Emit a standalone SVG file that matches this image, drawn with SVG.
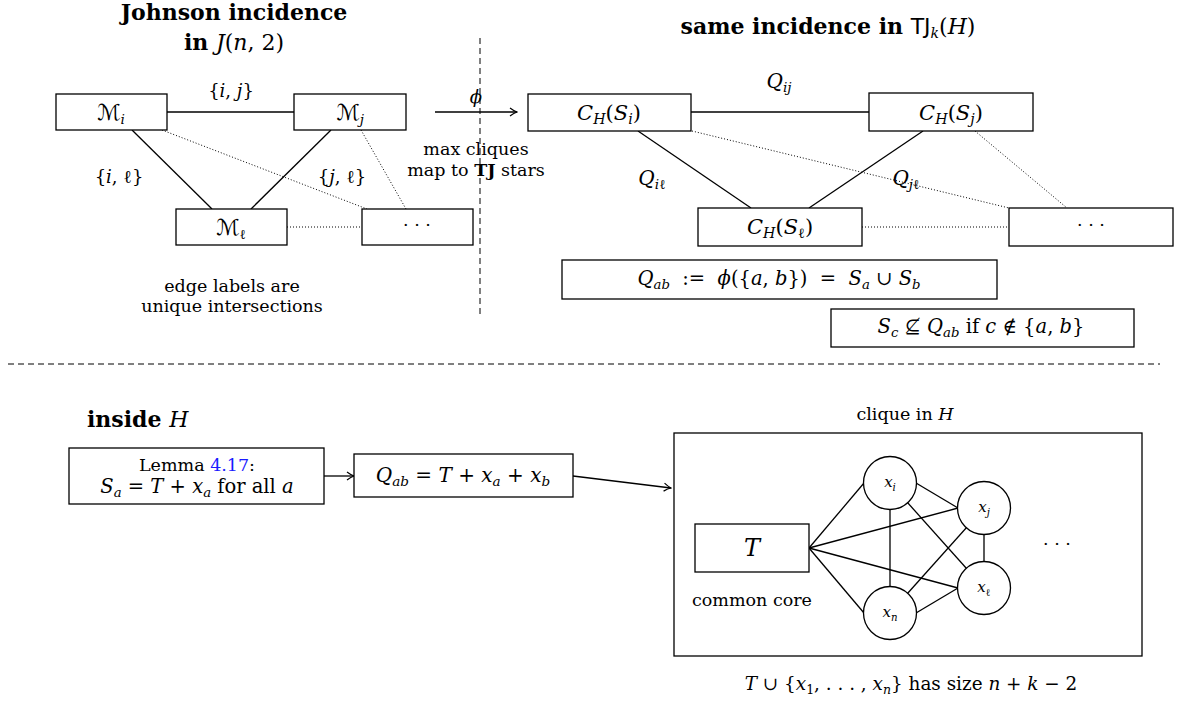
<svg xmlns="http://www.w3.org/2000/svg" width="1179" height="702" viewBox="0 0 1179 702" font-family="'DejaVu Serif','Liberation Serif',serif" font-size="17.5" text-anchor="middle">
<style>
text{fill:#000}
.t{font-weight:bold;font-size:22px}
.n{font-weight:normal}
.m{font-style:italic}
.s{font-size:0.68em}
.cal{font-family:"DejaVu Sans",sans-serif;font-size:22px}
.box{fill:#fff;stroke:#000;stroke-width:1.3}
.e{stroke:#000;stroke-width:1.3;fill:none}
.d{stroke:#000;stroke-width:1;stroke-dasharray:1 2;fill:none}
.dash{stroke:#000;stroke-width:1;stroke-dasharray:6 4;fill:none}
.c{fill:#fff;stroke:#000;stroke-width:1.3}
.blue{fill:#1a1aff}
</style>
<defs>
<marker id="ah" viewBox="0 0 10 10" refX="9" refY="5" markerWidth="10" markerHeight="10" markerUnits="userSpaceOnUse" orient="auto">
<path d="M2,1 Q6,4 9,5 Q6,6 2,9" fill="none" stroke="#000" stroke-width="1.2"/>
</marker>
</defs>

<!-- titles -->
<text class="t" x="234" y="20">Johnson incidence</text>
<text class="t" x="234" y="50">in <tspan class="n m">J</tspan><tspan class="n">(</tspan><tspan class="n m">n</tspan><tspan class="n">, 2)</tspan></text>
<text class="t" x="828" y="34">same incidence in <tspan class="n" font-family="DejaVu Sans">TJ</tspan><tspan class="n m" font-size="14" dy="4">k</tspan><tspan class="n" dy="-4">(</tspan><tspan class="n m">H</tspan><tspan class="n">)</tspan></text>

<!-- connectors -->
<g id="connectors">
<line class="e" x1="167" y1="112" x2="294" y2="112"/>
<line class="e" x1="132" y1="130" x2="212" y2="209"/>
<line class="e" x1="331" y1="130" x2="251" y2="209"/>
<line class="d" x1="162" y1="130" x2="367" y2="209"/>
<line class="d" x1="361" y1="130" x2="406" y2="209"/>
<line class="d" x1="287" y1="227" x2="362" y2="227"/>

<line class="dash" x1="480" y1="38" x2="480" y2="318"/>
<line class="e" x1="435" y1="112" x2="517" y2="112" marker-end="url(#ah)"/>

<line class="e" x1="691" y1="112" x2="869" y2="112"/>
<line class="e" x1="638" y1="131" x2="751" y2="208"/>
<line class="e" x1="923" y1="131" x2="809" y2="208"/>
<line class="d" x1="692" y1="131" x2="1009" y2="208"/>
<line class="d" x1="975" y1="131" x2="1067" y2="208"/>
<line class="d" x1="862" y1="227" x2="1009" y2="227"/>

<line class="dash" x1="8" y1="364" x2="1160" y2="364" stroke-dasharray="7 5"/>

<line class="e" x1="324" y1="476" x2="354" y2="476" marker-end="url(#ah)"/>
<line class="e" x1="573" y1="476" x2="671" y2="488" marker-end="url(#ah)"/>

<line class="e" x1="809" y1="548" x2="864" y2="483"/>
<line class="e" x1="809" y1="548" x2="958" y2="508"/>
<line class="e" x1="809" y1="548" x2="958" y2="588"/>
<line class="e" x1="809" y1="548" x2="864" y2="613"/>
<line class="e" x1="916" y1="483" x2="958" y2="508"/>
<line class="e" x1="890" y1="483" x2="890" y2="613"/>
<line class="e" x1="890" y1="483" x2="984" y2="588"/>
<line class="e" x1="890" y1="613" x2="984" y2="508"/>
<line class="e" x1="984" y1="508" x2="984" y2="588"/>
<line class="e" x1="916" y1="613" x2="958" y2="588"/>
</g>

<!-- edge labels -->
<text x="231" y="97" font-size="18">{<tspan class="m">i</tspan>, <tspan class="m">j</tspan>}</text>
<text x="119" y="183" font-size="18">{<tspan class="m">i</tspan>, ℓ}</text>
<text x="342" y="183" font-size="18">{<tspan class="m">j</tspan>, ℓ}</text>
<text x="476" y="103" class="m" font-size="18">ϕ</text>
<text x="476" y="155">max cliques</text>
<text x="476" y="176">map to <tspan font-weight="bold">TJ</tspan> stars</text>
<text x="232" y="292">edge labels are</text>
<text x="232" y="312">unique intersections</text>

<text x="779" y="88" font-size="20"><tspan class="m">Q</tspan><tspan class="m s" dy="4">ij</tspan></text>
<text x="652" y="185" font-size="20"><tspan class="m">Q</tspan><tspan class="s" dy="4"><tspan class="m">i</tspan>ℓ</tspan></text>
<text x="906" y="185" font-size="20"><tspan class="m">Q</tspan><tspan class="s" dy="4"><tspan class="m">j</tspan>ℓ</tspan></text>

<!-- Johnson nodes -->
<g id="Mi"><rect class="box" x="56" y="94" width="111" height="36"/><text x="111" y="120" font-size="20"><tspan class="cal">ℳ</tspan><tspan class="m s" dy="4">i</tspan></text></g>
<g id="Mj"><rect class="box" x="294" y="94" width="112" height="36"/><text x="350" y="120" font-size="20"><tspan class="cal">ℳ</tspan><tspan class="m s" dy="4">j</tspan></text></g>
<g id="Ml"><rect class="box" x="176" y="209" width="111" height="36"/><text x="231" y="235" font-size="20"><tspan class="cal">ℳ</tspan><tspan class="s" dy="4">ℓ</tspan></text></g>
<g id="Mdots"><rect class="box" x="362" y="209" width="111" height="36"/><text x="417" y="231">· · ·</text></g>

<!-- TJ nodes -->
<g id="Ci"><rect class="box" x="528" y="94" width="163" height="37"/><text x="609" y="120" font-size="21"><tspan class="m">C</tspan><tspan class="m s" dy="4">H</tspan><tspan dy="-4">(</tspan><tspan class="m">S</tspan><tspan class="m s" dy="4">i</tspan><tspan dy="-4">)</tspan></text></g>
<g id="Cj"><rect class="box" x="869" y="93" width="164" height="38"/><text x="951" y="120" font-size="21"><tspan class="m">C</tspan><tspan class="m s" dy="4">H</tspan><tspan dy="-4">(</tspan><tspan class="m">S</tspan><tspan class="m s" dy="4">j</tspan><tspan dy="-4">)</tspan></text></g>
<g id="Cl"><rect class="box" x="698" y="208" width="164" height="38"/><text x="780" y="234" font-size="21"><tspan class="m">C</tspan><tspan class="m s" dy="4">H</tspan><tspan dy="-4">(</tspan><tspan class="m">S</tspan><tspan class="s" dy="4">ℓ</tspan><tspan dy="-4">)</tspan></text></g>
<g id="Cdots"><rect class="box" x="1009" y="208" width="164" height="38"/><text x="1091" y="231">· · ·</text></g>

<g id="Qdef"><rect class="box" x="562" y="260" width="435" height="39"/><text x="779" y="285" font-size="19.5"><tspan class="m">Q</tspan><tspan class="m s" dy="4">ab</tspan><tspan dy="-4" xml:space="preserve">  :=  </tspan><tspan class="m">ϕ</tspan>({<tspan class="m">a</tspan>, <tspan class="m">b</tspan>})<tspan xml:space="preserve">  =  </tspan><tspan class="m">S</tspan><tspan class="m s" dy="4">a</tspan><tspan dy="-4"> ∪ </tspan><tspan class="m">S</tspan><tspan class="m s" dy="4">b</tspan></text></g>
<g id="Sc"><rect class="box" x="831" y="309" width="303" height="38"/><text x="981" y="333" font-size="19.5"><tspan class="m">S</tspan><tspan class="m s" dy="4">c</tspan><tspan dy="-4"> ⊈ </tspan><tspan class="m">Q</tspan><tspan class="m s" dy="4">ab</tspan><tspan dy="-4"> if </tspan><tspan class="m">c</tspan> ∉ {<tspan class="m">a</tspan>, <tspan class="m">b</tspan>}</text></g>

<!-- bottom -->
<text class="t" x="87" y="427" text-anchor="start">inside <tspan class="n m">H</tspan></text>
<g id="lemma"><rect class="box" x="69" y="448" width="255" height="56"/>
<text x="197" y="471">Lemma <tspan class="blue">4.17</tspan>:</text>
<text x="197" y="493" font-size="19.5"><tspan class="m">S</tspan><tspan class="m s" dy="4">a</tspan><tspan dy="-4"> = </tspan><tspan class="m">T</tspan> + <tspan class="m">x</tspan><tspan class="m s" dy="4">a</tspan><tspan dy="-4"> for all </tspan><tspan class="m">a</tspan></text></g>
<g id="Qab"><rect class="box" x="354" y="454" width="219" height="43"/><text x="463" y="482" font-size="20"><tspan class="m">Q</tspan><tspan class="m s" dy="4">ab</tspan><tspan dy="-4"> = </tspan><tspan class="m">T</tspan> + <tspan class="m">x</tspan><tspan class="m s" dy="4">a</tspan><tspan dy="-4"> + </tspan><tspan class="m">x</tspan><tspan class="m s" dy="4">b</tspan></text></g>

<text x="905" y="420">clique in <tspan class="m">H</tspan></text>
<g id="clique"><rect x="674" y="433" width="468" height="223" fill="none" stroke="#000" stroke-width="1.3"/></g>
<g id="T"><rect class="box" x="695" y="524" width="114" height="48"/><text x="752" y="556" class="m" font-size="24">T</text></g>
<text x="752" y="606">common core</text>
<g id="xi"><circle class="c" cx="890" cy="483" r="26.5"/><text x="890" y="487" font-size="15"><tspan class="m">x</tspan><tspan class="m s" dy="4">i</tspan></text></g>
<g id="xj"><circle class="c" cx="984" cy="508" r="26.5"/><text x="984" y="512" font-size="15"><tspan class="m">x</tspan><tspan class="m s" dy="4">j</tspan></text></g>
<g id="xl"><circle class="c" cx="984" cy="588" r="26.5"/><text x="984" y="592" font-size="15"><tspan class="m">x</tspan><tspan class="s" dy="4">ℓ</tspan></text></g>
<g id="xn"><circle class="c" cx="890" cy="613" r="26.5"/><text x="890" y="617" font-size="15"><tspan class="m">x</tspan><tspan class="m s" dy="4">n</tspan></text></g>
<text x="1057" y="550">· · ·</text>
<text x="911" y="690" font-size="18.4"><tspan class="m">T</tspan> ∪ {<tspan class="m">x</tspan><tspan class="s" dy="4">1</tspan><tspan dy="-4">, . . . , </tspan><tspan class="m">x</tspan><tspan class="m s" dy="4">n</tspan><tspan dy="-4">} has size </tspan><tspan class="m">n</tspan> + <tspan class="m">k</tspan> − 2</text>
</svg>
